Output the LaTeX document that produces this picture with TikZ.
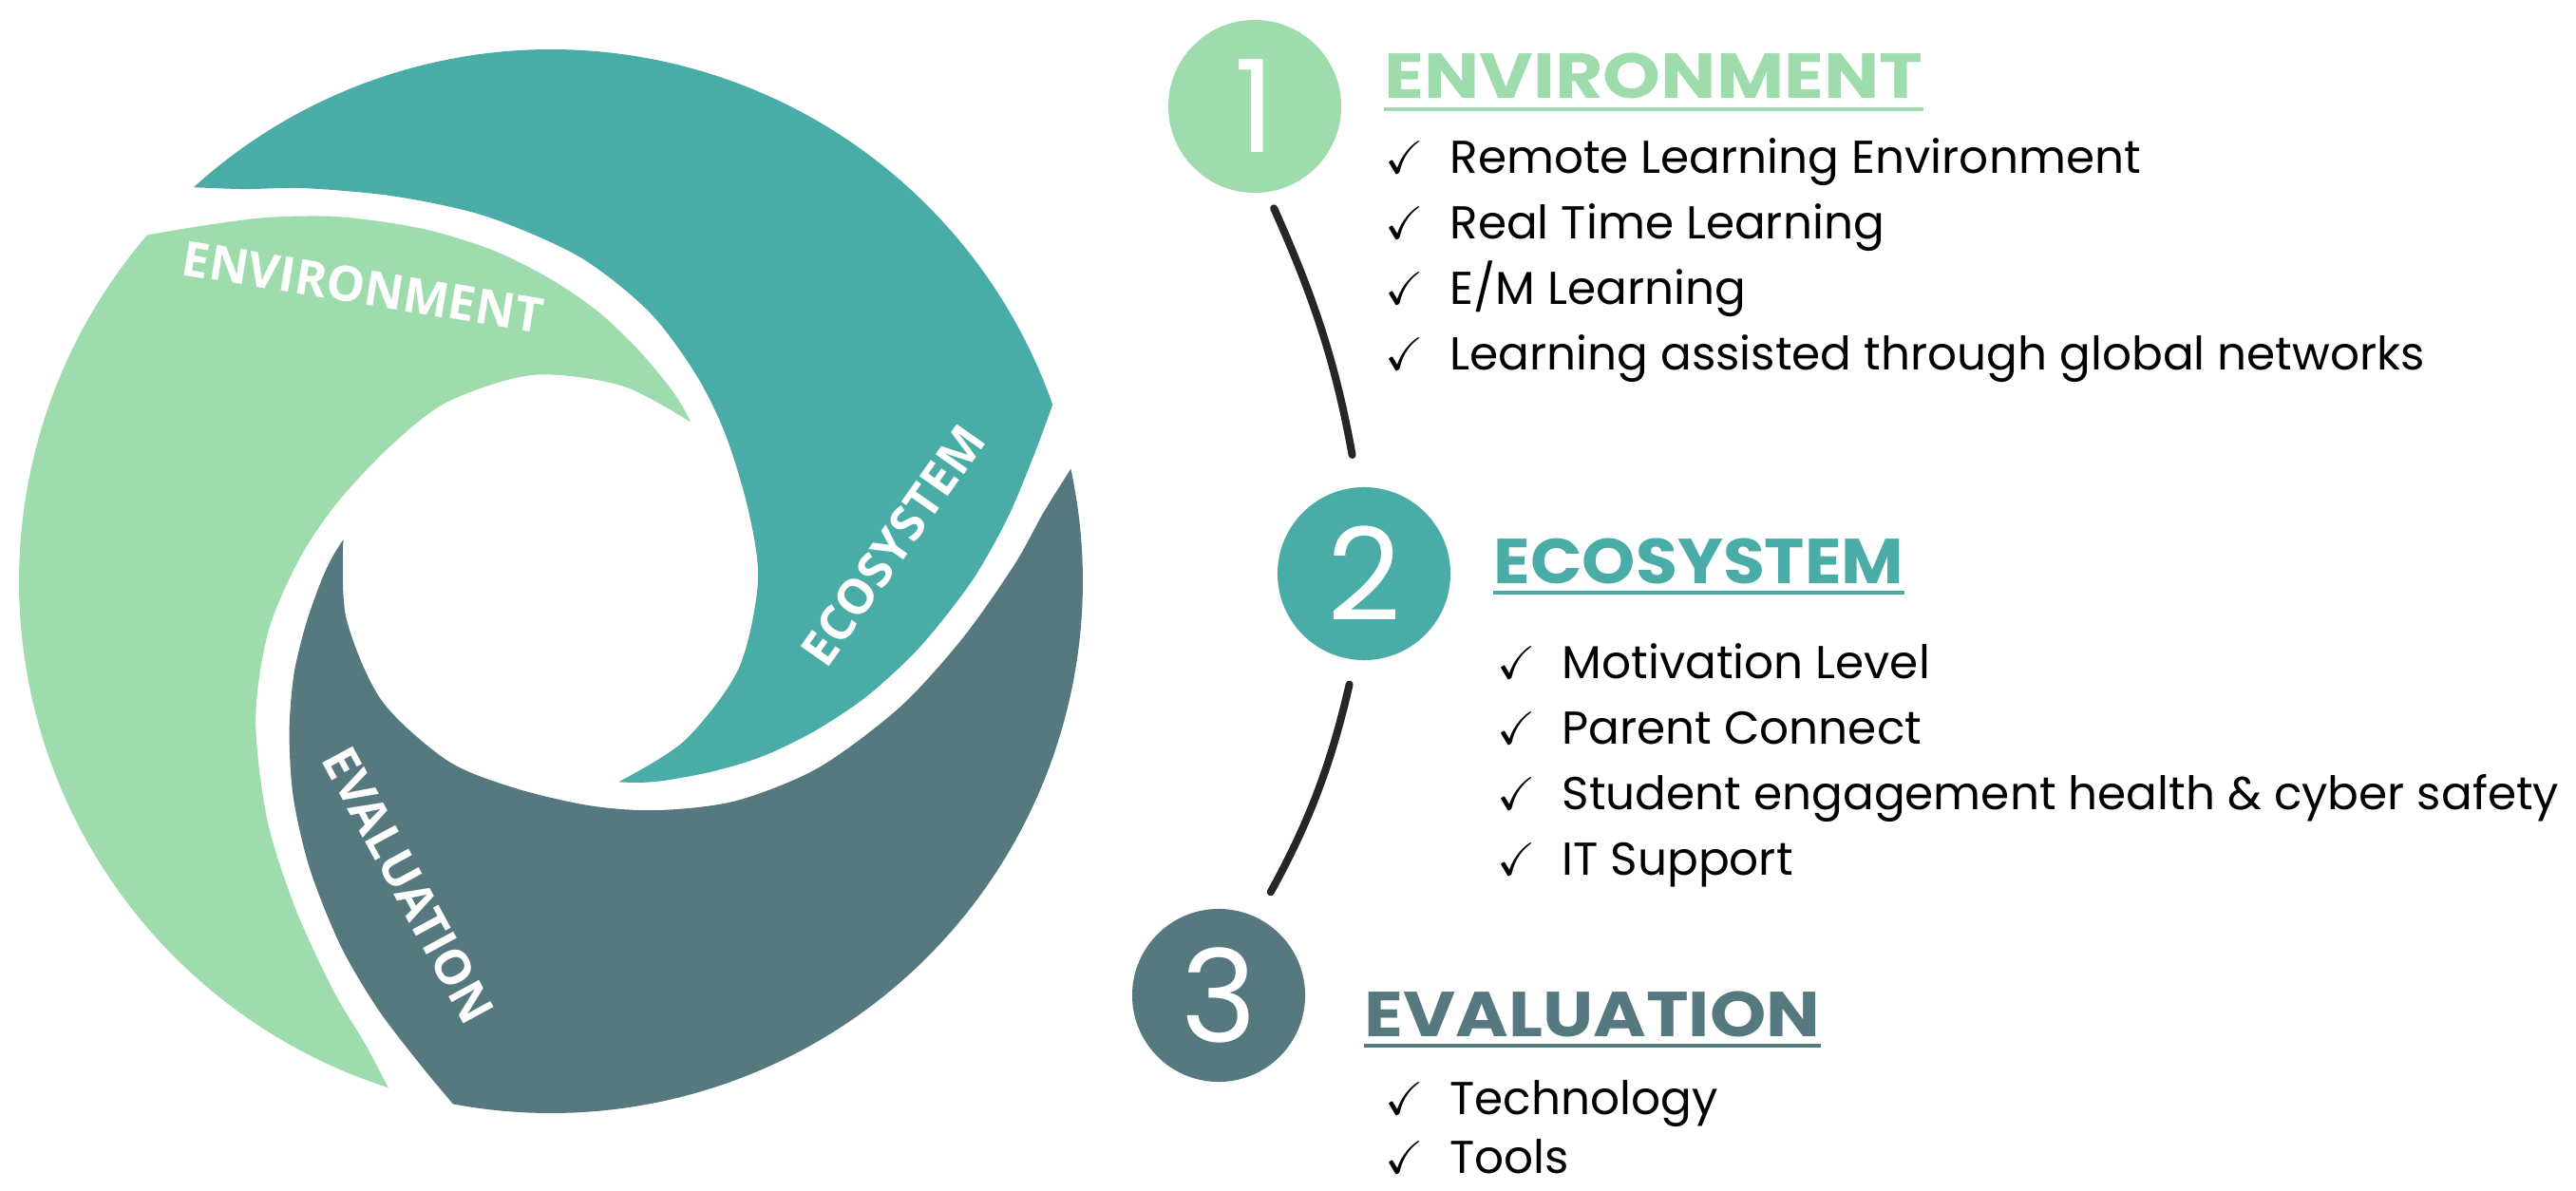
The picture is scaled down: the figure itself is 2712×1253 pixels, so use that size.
\documentclass[tikz,border=0pt]{standalone}
\usepackage{fontspec}
\usepackage{amssymb}
\usepackage{graphicx}
\setmainfont{Poppins}
\newfontfamily\labelfont{Open Sans}
\usetikzlibrary{positioning}

\definecolor{envgreen}{RGB}{158,220,173}
\definecolor{ecoteal}{RGB}{74,172,167}
\definecolor{evalslate}{RGB}{86,121,127}
\definecolor{linkgray}{RGB}{38,38,38}

\newcommand{\tick}{\makebox[19.3pt][l]{\checkmark}}
\newcommand{\wide}[2]{\scalebox{#1}[1]{#2}}

% one arm of the swirl, around the origin (the others are rotated copies)
\newcommand{\swirlarm}{%
  (132.2:560) arc[start angle=132.2, end angle=19.4, radius=560]
  -- plot[smooth] coordinates {(19.4:560) (15:528) (8:486) (0:443) (-10:395) (-20:354) (-30:318) (-40:288) (-50:262) (-60:242) (-66:232) (-71.4:223)}
  -- plot[smooth] coordinates {(-71.4:223) (-50:219) (-25:218) (0:218) (20:221) (40:240) (55:266) (70:302) (85:343) (100:390) (112:437) (122:488) (128:524) (132.2:560)}
  -- cycle}

\tikzset{
  armlabel/.style={text=white, inner sep=0pt, font=\labelfont\bfseries\fontsize{14.5}{17}\selectfont},
  stepcircle/.style={circle, minimum size=1.82cm, inner sep=0pt, text=white, font=\fontsize{38.5}{44}\selectfont},
  heading/.style={anchor=base west, inner sep=0pt, font=\bfseries\fontsize{19}{22}\selectfont},
  headrule/.style={line width=0.045cm},
  itemtext/.style={anchor=base west, inner sep=0pt, font=\fontsize{13.8}{17}\selectfont},
  link/.style={draw=linkgray, line width=0.08cm, line cap=round}
}

\begin{document}
\begin{tikzpicture}[x=0.01cm, y=0.01cm]
  \useasboundingbox (0,0) rectangle (2712,1253);

  % swirl
  \begin{scope}[shift={(580,641)}]
    \fill[ecoteal] \swirlarm;
    \fill[evalslate, rotate=-120] \swirlarm;
    \fill[envgreen, rotate=120] \swirlarm;
  \end{scope}
  \node[armlabel, rotate=-9.3] (envlabel) at (382,951) {ENVIRONMENT};
  \node[armlabel, rotate=54.9] (ecolabel) at (940,679) {ECOSYSTEM};
  \node[armlabel, rotate=-61.6] (evallabel) at (430,321) {EVALUATION};

  % numbered steps
  \node[stepcircle, fill=envgreen] (c1) at (1321,1141) {1};
  \node[stepcircle, fill=ecoteal] (c2) at (1436,649) {2};
  \node[stepcircle, fill=evalslate] (c3) at (1283,205) {3};
  \draw[link, shorten <=0.18cm, shorten >=0.34cm] (c1.-82) to[bend left=7] (c2.94);
  \draw[link, shorten <=0.26cm, shorten >=0.30cm] (c2.-96) to[bend left=8] (c3.64);

  % headings
  \node[heading, text=envgreen] (envhead) at (1457,1150) {\wide{1.16}{ENVIRONMENT}};
  \node[heading, text=ecoteal] (ecohead) at (1572,639) {\wide{1.07}{ECOSYSTEM}};
  \node[heading, text=evalslate] (evalhead) at (1436,162) {\wide{1.13}{EVALUATION}};
  \draw[headrule, envgreen] ([yshift=-0.12cm]envhead.base west) -- ([yshift=-0.12cm]envhead.base east);
  \draw[headrule, ecoteal] ([yshift=-0.10cm]ecohead.base west) -- ([yshift=-0.10cm]ecohead.base east);
  \draw[headrule, evalslate] ([yshift=-0.10cm]evalhead.base west) -- ([yshift=-0.10cm]evalhead.base east);

  % items
  \foreach \txt [count=\i] in {Remote Learning Environment, Real Time Learning, E/M Learning, Learning assisted through global networks}
    \node[itemtext] (env\i) at (1458, {1071-69*(\i-1)}) {\tick\txt};
  \foreach \txt [count=\i] in {Motivation Level, Parent Connect, Student engagement health \& cyber safety, IT Support}
    \node[itemtext] (eco\i) at (1576, {539-69*(\i-1)}) {\tick\txt};
  \foreach \txt [count=\i] in {Technology, Tools}
    \node[itemtext] (eval\i) at (1458, {80-62*(\i-1)}) {\tick\txt};
\end{tikzpicture}
\end{document}
